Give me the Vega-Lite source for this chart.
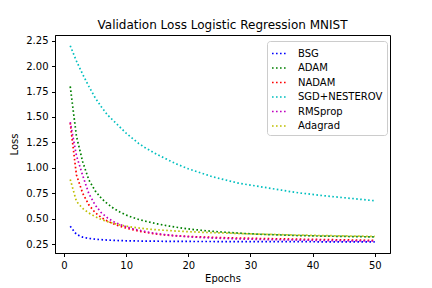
{
  "$schema": "https://vega.github.io/schema/vega-lite/v6.json",
  "width": 335,
  "height": 218,
  "autosize": {"type": "none"},
  "padding": {"left": 55, "top": 35, "right": 42, "bottom": 35},
  "background": "white",
  "title": {"text": "Validation Loss Logistic Regression MNIST", "font": "DejaVu Sans", "fontSize": 12, "fontWeight": "normal", "color": "black", "anchor": "middle", "offset": 6, "baseline": "alphabetic", "dy": 12},
  "config": {
    "view": {"stroke": "black", "strokeWidth": 1},
    "axis": {"domain": true, "domainColor": "black", "domainWidth": 1, "tickColor": "black", "tickSize": 3.5, "tickWidth": 1, "labelFont": "DejaVu Sans", "labelFontSize": 10, "labelColor": "black", "labelPadding": 3.5, "titleFont": "DejaVu Sans", "titleFontSize": 10, "titleFontWeight": "normal", "titleColor": "black", "grid": false},
    "legend": {"labelFont": "DejaVu Sans", "labelFontSize": 10, "labelColor": "black"}
  },
  "datasets": {
    "losses": [
      {"epoch":1,"opt":"BSG","loss":0.425},{"epoch":2,"opt":"BSG","loss":0.345},{"epoch":3,"opt":"BSG","loss":0.318},{"epoch":4,"opt":"BSG","loss":0.305},{"epoch":5,"opt":"BSG","loss":0.298},{"epoch":6,"opt":"BSG","loss":0.293},{"epoch":7,"opt":"BSG","loss":0.289},{"epoch":8,"opt":"BSG","loss":0.286},{"epoch":9,"opt":"BSG","loss":0.284},{"epoch":10,"opt":"BSG","loss":0.282},
      {"epoch":11,"opt":"BSG","loss":0.281},{"epoch":12,"opt":"BSG","loss":0.280},{"epoch":13,"opt":"BSG","loss":0.279},{"epoch":14,"opt":"BSG","loss":0.278},{"epoch":15,"opt":"BSG","loss":0.278},{"epoch":16,"opt":"BSG","loss":0.277},{"epoch":17,"opt":"BSG","loss":0.277},{"epoch":18,"opt":"BSG","loss":0.276},{"epoch":19,"opt":"BSG","loss":0.276},{"epoch":20,"opt":"BSG","loss":0.276},
      {"epoch":21,"opt":"BSG","loss":0.275},{"epoch":22,"opt":"BSG","loss":0.275},{"epoch":23,"opt":"BSG","loss":0.275},{"epoch":24,"opt":"BSG","loss":0.275},{"epoch":25,"opt":"BSG","loss":0.274},{"epoch":26,"opt":"BSG","loss":0.274},{"epoch":27,"opt":"BSG","loss":0.274},{"epoch":28,"opt":"BSG","loss":0.274},{"epoch":29,"opt":"BSG","loss":0.274},{"epoch":30,"opt":"BSG","loss":0.273},
      {"epoch":31,"opt":"BSG","loss":0.273},{"epoch":32,"opt":"BSG","loss":0.273},{"epoch":33,"opt":"BSG","loss":0.273},{"epoch":34,"opt":"BSG","loss":0.273},{"epoch":35,"opt":"BSG","loss":0.273},{"epoch":36,"opt":"BSG","loss":0.273},{"epoch":37,"opt":"BSG","loss":0.273},{"epoch":38,"opt":"BSG","loss":0.273},{"epoch":39,"opt":"BSG","loss":0.273},{"epoch":40,"opt":"BSG","loss":0.273},
      {"epoch":41,"opt":"BSG","loss":0.272},{"epoch":42,"opt":"BSG","loss":0.272},{"epoch":43,"opt":"BSG","loss":0.272},{"epoch":44,"opt":"BSG","loss":0.272},{"epoch":45,"opt":"BSG","loss":0.272},{"epoch":46,"opt":"BSG","loss":0.272},{"epoch":47,"opt":"BSG","loss":0.272},{"epoch":48,"opt":"BSG","loss":0.272},{"epoch":49,"opt":"BSG","loss":0.272},{"epoch":50,"opt":"BSG","loss":0.272},

      {"epoch":1,"opt":"ADAM","loss":1.80},{"epoch":2,"opt":"ADAM","loss":1.31},{"epoch":3,"opt":"ADAM","loss":1.06},{"epoch":4,"opt":"ADAM","loss":0.88},{"epoch":5,"opt":"ADAM","loss":0.775},{"epoch":6,"opt":"ADAM","loss":0.70},{"epoch":7,"opt":"ADAM","loss":0.645},{"epoch":8,"opt":"ADAM","loss":0.60},{"epoch":9,"opt":"ADAM","loss":0.565},{"epoch":10,"opt":"ADAM","loss":0.535},
      {"epoch":11,"opt":"ADAM","loss":0.512},{"epoch":12,"opt":"ADAM","loss":0.492},{"epoch":13,"opt":"ADAM","loss":0.476},{"epoch":14,"opt":"ADAM","loss":0.462},{"epoch":15,"opt":"ADAM","loss":0.449},{"epoch":16,"opt":"ADAM","loss":0.437},{"epoch":17,"opt":"ADAM","loss":0.426},{"epoch":18,"opt":"ADAM","loss":0.416},{"epoch":19,"opt":"ADAM","loss":0.407},{"epoch":20,"opt":"ADAM","loss":0.399},
      {"epoch":21,"opt":"ADAM","loss":0.392},{"epoch":22,"opt":"ADAM","loss":0.386},{"epoch":23,"opt":"ADAM","loss":0.380},{"epoch":24,"opt":"ADAM","loss":0.375},{"epoch":25,"opt":"ADAM","loss":0.370},{"epoch":26,"opt":"ADAM","loss":0.366},{"epoch":27,"opt":"ADAM","loss":0.362},{"epoch":28,"opt":"ADAM","loss":0.358},{"epoch":29,"opt":"ADAM","loss":0.354},{"epoch":30,"opt":"ADAM","loss":0.351},
      {"epoch":31,"opt":"ADAM","loss":0.348},{"epoch":32,"opt":"ADAM","loss":0.345},{"epoch":33,"opt":"ADAM","loss":0.343},{"epoch":34,"opt":"ADAM","loss":0.341},{"epoch":35,"opt":"ADAM","loss":0.339},{"epoch":36,"opt":"ADAM","loss":0.337},{"epoch":37,"opt":"ADAM","loss":0.335},{"epoch":38,"opt":"ADAM","loss":0.333},{"epoch":39,"opt":"ADAM","loss":0.332},{"epoch":40,"opt":"ADAM","loss":0.330},
      {"epoch":41,"opt":"ADAM","loss":0.329},{"epoch":42,"opt":"ADAM","loss":0.328},{"epoch":43,"opt":"ADAM","loss":0.327},{"epoch":44,"opt":"ADAM","loss":0.326},{"epoch":45,"opt":"ADAM","loss":0.325},{"epoch":46,"opt":"ADAM","loss":0.324},{"epoch":47,"opt":"ADAM","loss":0.323},{"epoch":48,"opt":"ADAM","loss":0.322},{"epoch":49,"opt":"ADAM","loss":0.321},{"epoch":50,"opt":"ADAM","loss":0.321},

      {"epoch":1,"opt":"NADAM","loss":1.44},{"epoch":2,"opt":"NADAM","loss":0.93},{"epoch":3,"opt":"NADAM","loss":0.75},{"epoch":4,"opt":"NADAM","loss":0.635},{"epoch":5,"opt":"NADAM","loss":0.56},{"epoch":6,"opt":"NADAM","loss":0.51},{"epoch":7,"opt":"NADAM","loss":0.475},{"epoch":8,"opt":"NADAM","loss":0.448},{"epoch":9,"opt":"NADAM","loss":0.425},{"epoch":10,"opt":"NADAM","loss":0.407},
      {"epoch":11,"opt":"NADAM","loss":0.392},{"epoch":12,"opt":"NADAM","loss":0.378},{"epoch":13,"opt":"NADAM","loss":0.366},{"epoch":14,"opt":"NADAM","loss":0.356},{"epoch":15,"opt":"NADAM","loss":0.348},{"epoch":16,"opt":"NADAM","loss":0.341},{"epoch":17,"opt":"NADAM","loss":0.336},{"epoch":18,"opt":"NADAM","loss":0.332},{"epoch":19,"opt":"NADAM","loss":0.328},{"epoch":20,"opt":"NADAM","loss":0.325},
      {"epoch":21,"opt":"NADAM","loss":0.322},{"epoch":22,"opt":"NADAM","loss":0.320},{"epoch":23,"opt":"NADAM","loss":0.318},{"epoch":24,"opt":"NADAM","loss":0.316},{"epoch":25,"opt":"NADAM","loss":0.314},{"epoch":26,"opt":"NADAM","loss":0.312},{"epoch":27,"opt":"NADAM","loss":0.311},{"epoch":28,"opt":"NADAM","loss":0.309},{"epoch":29,"opt":"NADAM","loss":0.308},{"epoch":30,"opt":"NADAM","loss":0.307},
      {"epoch":31,"opt":"NADAM","loss":0.305},{"epoch":32,"opt":"NADAM","loss":0.304},{"epoch":33,"opt":"NADAM","loss":0.303},{"epoch":34,"opt":"NADAM","loss":0.302},{"epoch":35,"opt":"NADAM","loss":0.301},{"epoch":36,"opt":"NADAM","loss":0.300},{"epoch":37,"opt":"NADAM","loss":0.299},{"epoch":38,"opt":"NADAM","loss":0.298},{"epoch":39,"opt":"NADAM","loss":0.297},{"epoch":40,"opt":"NADAM","loss":0.296},
      {"epoch":41,"opt":"NADAM","loss":0.295},{"epoch":42,"opt":"NADAM","loss":0.294},{"epoch":43,"opt":"NADAM","loss":0.293},{"epoch":44,"opt":"NADAM","loss":0.292},{"epoch":45,"opt":"NADAM","loss":0.291},{"epoch":46,"opt":"NADAM","loss":0.290},{"epoch":47,"opt":"NADAM","loss":0.289},{"epoch":48,"opt":"NADAM","loss":0.288},{"epoch":49,"opt":"NADAM","loss":0.287},{"epoch":50,"opt":"NADAM","loss":0.287},

      {"epoch":1,"opt":"SGD+NESTEROV","loss":2.20},{"epoch":2,"opt":"SGD+NESTEROV","loss":2.05},{"epoch":3,"opt":"SGD+NESTEROV","loss":1.92},{"epoch":4,"opt":"SGD+NESTEROV","loss":1.80},{"epoch":5,"opt":"SGD+NESTEROV","loss":1.69},{"epoch":6,"opt":"SGD+NESTEROV","loss":1.60},{"epoch":7,"opt":"SGD+NESTEROV","loss":1.52},{"epoch":8,"opt":"SGD+NESTEROV","loss":1.46},{"epoch":9,"opt":"SGD+NESTEROV","loss":1.40},{"epoch":10,"opt":"SGD+NESTEROV","loss":1.34},
      {"epoch":11,"opt":"SGD+NESTEROV","loss":1.29},{"epoch":12,"opt":"SGD+NESTEROV","loss":1.24},{"epoch":13,"opt":"SGD+NESTEROV","loss":1.20},{"epoch":14,"opt":"SGD+NESTEROV","loss":1.165},{"epoch":15,"opt":"SGD+NESTEROV","loss":1.13},{"epoch":16,"opt":"SGD+NESTEROV","loss":1.10},{"epoch":17,"opt":"SGD+NESTEROV","loss":1.07},{"epoch":18,"opt":"SGD+NESTEROV","loss":1.04},{"epoch":19,"opt":"SGD+NESTEROV","loss":1.015},{"epoch":20,"opt":"SGD+NESTEROV","loss":0.99},
      {"epoch":21,"opt":"SGD+NESTEROV","loss":0.97},{"epoch":22,"opt":"SGD+NESTEROV","loss":0.95},{"epoch":23,"opt":"SGD+NESTEROV","loss":0.93},{"epoch":24,"opt":"SGD+NESTEROV","loss":0.91},{"epoch":25,"opt":"SGD+NESTEROV","loss":0.895},{"epoch":26,"opt":"SGD+NESTEROV","loss":0.88},{"epoch":27,"opt":"SGD+NESTEROV","loss":0.865},{"epoch":28,"opt":"SGD+NESTEROV","loss":0.85},{"epoch":29,"opt":"SGD+NESTEROV","loss":0.84},{"epoch":30,"opt":"SGD+NESTEROV","loss":0.83},
      {"epoch":31,"opt":"SGD+NESTEROV","loss":0.82},{"epoch":32,"opt":"SGD+NESTEROV","loss":0.81},{"epoch":33,"opt":"SGD+NESTEROV","loss":0.80},{"epoch":34,"opt":"SGD+NESTEROV","loss":0.79},{"epoch":35,"opt":"SGD+NESTEROV","loss":0.78},{"epoch":36,"opt":"SGD+NESTEROV","loss":0.77},{"epoch":37,"opt":"SGD+NESTEROV","loss":0.76},{"epoch":38,"opt":"SGD+NESTEROV","loss":0.752},{"epoch":39,"opt":"SGD+NESTEROV","loss":0.745},{"epoch":40,"opt":"SGD+NESTEROV","loss":0.738},
      {"epoch":41,"opt":"SGD+NESTEROV","loss":0.731},{"epoch":42,"opt":"SGD+NESTEROV","loss":0.724},{"epoch":43,"opt":"SGD+NESTEROV","loss":0.718},{"epoch":44,"opt":"SGD+NESTEROV","loss":0.712},{"epoch":45,"opt":"SGD+NESTEROV","loss":0.706},{"epoch":46,"opt":"SGD+NESTEROV","loss":0.700},{"epoch":47,"opt":"SGD+NESTEROV","loss":0.694},{"epoch":48,"opt":"SGD+NESTEROV","loss":0.688},{"epoch":49,"opt":"SGD+NESTEROV","loss":0.682},{"epoch":50,"opt":"SGD+NESTEROV","loss":0.676},

      {"epoch":1,"opt":"RMSprop","loss":1.45},{"epoch":2,"opt":"RMSprop","loss":1.12},{"epoch":3,"opt":"RMSprop","loss":0.925},{"epoch":4,"opt":"RMSprop","loss":0.745},{"epoch":5,"opt":"RMSprop","loss":0.635},{"epoch":6,"opt":"RMSprop","loss":0.558},{"epoch":7,"opt":"RMSprop","loss":0.507},{"epoch":8,"opt":"RMSprop","loss":0.47},{"epoch":9,"opt":"RMSprop","loss":0.442},{"epoch":10,"opt":"RMSprop","loss":0.42},
      {"epoch":11,"opt":"RMSprop","loss":0.402},{"epoch":12,"opt":"RMSprop","loss":0.387},{"epoch":13,"opt":"RMSprop","loss":0.374},{"epoch":14,"opt":"RMSprop","loss":0.362},{"epoch":15,"opt":"RMSprop","loss":0.352},{"epoch":16,"opt":"RMSprop","loss":0.344},{"epoch":17,"opt":"RMSprop","loss":0.337},{"epoch":18,"opt":"RMSprop","loss":0.331},{"epoch":19,"opt":"RMSprop","loss":0.326},{"epoch":20,"opt":"RMSprop","loss":0.322},
      {"epoch":21,"opt":"RMSprop","loss":0.318},{"epoch":22,"opt":"RMSprop","loss":0.315},{"epoch":23,"opt":"RMSprop","loss":0.312},{"epoch":24,"opt":"RMSprop","loss":0.309},{"epoch":25,"opt":"RMSprop","loss":0.307},{"epoch":26,"opt":"RMSprop","loss":0.305},{"epoch":27,"opt":"RMSprop","loss":0.303},{"epoch":28,"opt":"RMSprop","loss":0.301},{"epoch":29,"opt":"RMSprop","loss":0.299},{"epoch":30,"opt":"RMSprop","loss":0.298},
      {"epoch":31,"opt":"RMSprop","loss":0.296},{"epoch":32,"opt":"RMSprop","loss":0.295},{"epoch":33,"opt":"RMSprop","loss":0.294},{"epoch":34,"opt":"RMSprop","loss":0.293},{"epoch":35,"opt":"RMSprop","loss":0.292},{"epoch":36,"opt":"RMSprop","loss":0.291},{"epoch":37,"opt":"RMSprop","loss":0.290},{"epoch":38,"opt":"RMSprop","loss":0.289},{"epoch":39,"opt":"RMSprop","loss":0.288},{"epoch":40,"opt":"RMSprop","loss":0.287},
      {"epoch":41,"opt":"RMSprop","loss":0.286},{"epoch":42,"opt":"RMSprop","loss":0.285},{"epoch":43,"opt":"RMSprop","loss":0.284},{"epoch":44,"opt":"RMSprop","loss":0.284},{"epoch":45,"opt":"RMSprop","loss":0.283},{"epoch":46,"opt":"RMSprop","loss":0.282},{"epoch":47,"opt":"RMSprop","loss":0.282},{"epoch":48,"opt":"RMSprop","loss":0.281},{"epoch":49,"opt":"RMSprop","loss":0.280},{"epoch":50,"opt":"RMSprop","loss":0.280},

      {"epoch":1,"opt":"Adagrad","loss":0.885},{"epoch":2,"opt":"Adagrad","loss":0.67},{"epoch":3,"opt":"Adagrad","loss":0.60},{"epoch":4,"opt":"Adagrad","loss":0.555},{"epoch":5,"opt":"Adagrad","loss":0.52},{"epoch":6,"opt":"Adagrad","loss":0.492},{"epoch":7,"opt":"Adagrad","loss":0.47},{"epoch":8,"opt":"Adagrad","loss":0.453},{"epoch":9,"opt":"Adagrad","loss":0.438},{"epoch":10,"opt":"Adagrad","loss":0.426},
      {"epoch":11,"opt":"Adagrad","loss":0.416},{"epoch":12,"opt":"Adagrad","loss":0.408},{"epoch":13,"opt":"Adagrad","loss":0.401},{"epoch":14,"opt":"Adagrad","loss":0.395},{"epoch":15,"opt":"Adagrad","loss":0.390},{"epoch":16,"opt":"Adagrad","loss":0.386},{"epoch":17,"opt":"Adagrad","loss":0.382},{"epoch":18,"opt":"Adagrad","loss":0.378},{"epoch":19,"opt":"Adagrad","loss":0.375},{"epoch":20,"opt":"Adagrad","loss":0.372},
      {"epoch":21,"opt":"Adagrad","loss":0.369},{"epoch":22,"opt":"Adagrad","loss":0.366},{"epoch":23,"opt":"Adagrad","loss":0.364},{"epoch":24,"opt":"Adagrad","loss":0.362},{"epoch":25,"opt":"Adagrad","loss":0.360},{"epoch":26,"opt":"Adagrad","loss":0.358},{"epoch":27,"opt":"Adagrad","loss":0.356},{"epoch":28,"opt":"Adagrad","loss":0.354},{"epoch":29,"opt":"Adagrad","loss":0.352},{"epoch":30,"opt":"Adagrad","loss":0.350},
      {"epoch":31,"opt":"Adagrad","loss":0.348},{"epoch":32,"opt":"Adagrad","loss":0.347},{"epoch":33,"opt":"Adagrad","loss":0.345},{"epoch":34,"opt":"Adagrad","loss":0.344},{"epoch":35,"opt":"Adagrad","loss":0.342},{"epoch":36,"opt":"Adagrad","loss":0.341},{"epoch":37,"opt":"Adagrad","loss":0.339},{"epoch":38,"opt":"Adagrad","loss":0.338},{"epoch":39,"opt":"Adagrad","loss":0.337},{"epoch":40,"opt":"Adagrad","loss":0.335},
      {"epoch":41,"opt":"Adagrad","loss":0.334},{"epoch":42,"opt":"Adagrad","loss":0.333},{"epoch":43,"opt":"Adagrad","loss":0.332},{"epoch":44,"opt":"Adagrad","loss":0.331},{"epoch":45,"opt":"Adagrad","loss":0.330},{"epoch":46,"opt":"Adagrad","loss":0.329},{"epoch":47,"opt":"Adagrad","loss":0.328},{"epoch":48,"opt":"Adagrad","loss":0.327},{"epoch":49,"opt":"Adagrad","loss":0.326},{"epoch":50,"opt":"Adagrad","loss":0.325}
    ]
  },
  "data": {"name": "losses"},
  "mark": {"type": "line", "strokeWidth": 1.7, "strokeDash": [1.6, 2.4], "clip": true},
  "encoding": {
    "x": {"field": "epoch", "type": "quantitative", "scale": {"domain": [-1.45, 52.45], "nice": false, "zero": false}, "axis": {"values": [0, 10, 20, 30, 40, 50], "title": "Epochs", "titlePadding": 3}},
    "y": {"field": "loss", "type": "quantitative", "scale": {"domain": [0.162, 2.306], "nice": false, "zero": false}, "axis": {"values": [0.25, 0.5, 0.75, 1.0, 1.25, 1.5, 1.75, 2.0, 2.25], "format": ".2f", "title": "Loss", "titlePadding": 6}},
    "color": {"field": "opt", "type": "nominal", "sort": null,
      "scale": {"domain": ["BSG", "ADAM", "NADAM", "SGD+NESTEROV", "RMSprop", "Adagrad"], "range": ["#0000ff", "#008000", "#ff0000", "#00bfbf", "#bf00bf", "#bfbf00"]},
      "legend": {"title": null, "orient": "none", "legendX": 212, "legendY": 6, "symbolType": "stroke", "symbolSize": 225, "symbolStrokeWidth": 1.7, "symbolDash": [1.6, 2.4], "labelOffset": 10, "rowPadding": 0.5, "padding": 4, "fillColor": "rgba(255,255,255,0.8)", "strokeColor": "#cccccc", "cornerRadius": 3}
    }
  }
}
